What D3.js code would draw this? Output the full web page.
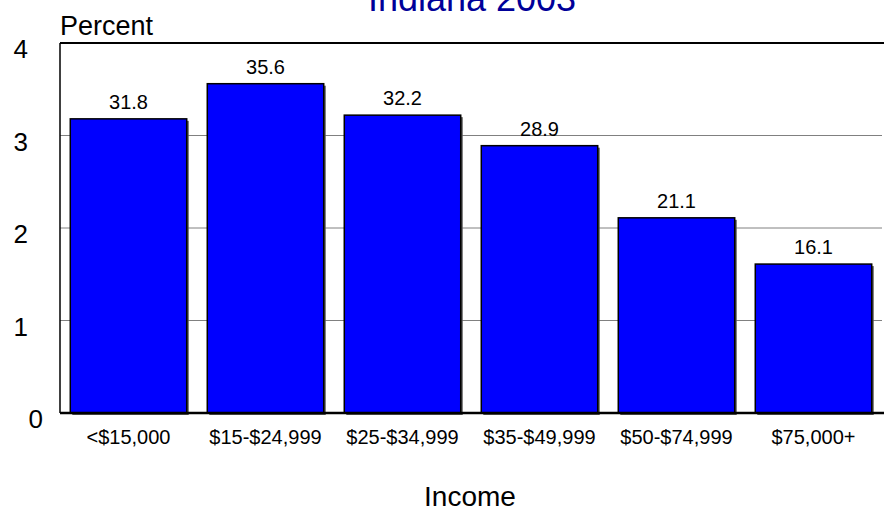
<!DOCTYPE html>
<html>
<head>
<meta charset="utf-8">
<script src="https://cdn.jsdelivr.net/npm/d3@7"></script>
<style>
  body { margin: 0; background: #fff; }
  svg { font-family: Arial, "Liberation Sans", sans-serif; display: block; }
</style>
</head>
<body>
<div id="chart"></div>
<script>
// chart data
var categories = ["<$15,000", "$15-$24,999", "$25-$34,999", "$35-$49,999", "$50-$74,999", "$75,000+"];
var values = [31.8, 35.6, 32.2, 28.9, 21.1, 16.1];
var yTicks = [0, 10, 20, 30, 40];
var yTickLabels = ["0", "1", "2", "3", "4"];

var W = 884, H = 512;
var margin = {top: 43, right: 2, bottom: 99, left: 60},
    width = W - margin.left - margin.right,
    height = H - margin.top - margin.bottom;

var svg = d3.select("#chart")
  .append("svg")
    .attr("width", W)
    .attr("height", H);

var g = svg.append("g")
    .attr("transform", "translate(" + margin.left + "," + margin.top + ")");

var x = d3.scaleBand()
    .domain(categories)
    .range([0, width])
    .paddingInner(0.15)
    .paddingOuter(0.075);

var y = d3.scaleLinear()
    .domain([0, 40])
    .range([height, 0]);

// title (cut off at top like the original)
svg.append("text")
    .attr("x", 472)
    .attr("y", 11)
    .attr("text-anchor", "middle")
    .style("font-size", "36px")
    .style("fill", "#000099")
    .text("Indiana 2003");

// gridlines
g.selectAll(".grid")
  .data(yTicks.filter(d => d > 0 && d < 40))
  .enter().append("line")
    .attr("x1", 0)
    .attr("x2", width)
    .attr("y1", d => y(d))
    .attr("y2", d => y(d))
    .style("stroke", "#808080")
    .style("stroke-width", 1);

// frame top and left
g.append("line")
    .attr("x1", 0).attr("x2", W - margin.left)
    .attr("y1", y(40)).attr("y2", y(40))
    .style("stroke", "#000").style("stroke-width", 2);
g.append("line")
    .attr("x1", 0).attr("x2", 0)
    .attr("y1", y(40)).attr("y2", y(0))
    .style("stroke", "#000").style("stroke-width", 1.5);

// bar shadows
g.selectAll(".shadow")
  .data(values)
  .enter().append("rect")
    .attr("x", (d, i) => x(categories[i]) + 2)
    .attr("y", d => y(d) + 2)
    .attr("width", x.bandwidth())
    .attr("height", d => y(0) - y(d))
    .style("fill", "#555");

// bars
g.selectAll(".bar")
  .data(values)
  .enter().append("rect")
    .attr("x", (d, i) => x(categories[i]))
    .attr("y", d => y(d))
    .attr("width", x.bandwidth())
    .attr("height", d => y(0) - y(d))
    .style("fill", "#0000ff")
    .style("stroke", "#000")
    .style("stroke-width", 1.5);

// value labels
g.selectAll(".val")
  .data(values)
  .enter().append("text")
    .attr("x", (d, i) => x(categories[i]) + x.bandwidth() / 2)
    .attr("y", d => y(d) - 10)
    .attr("text-anchor", "middle")
    .style("font-size", "20px")
    .style("fill", "#000")
    .text(d => d.toFixed(1));

// bottom axis line
g.append("line")
    .attr("x1", 0).attr("x2", W - margin.left)
    .attr("y1", y(0)).attr("y2", y(0))
    .style("stroke", "#000").style("stroke-width", 2.5);

// x tick labels
g.selectAll(".xl")
  .data(categories)
  .enter().append("text")
    .attr("x", d => x(d) + x.bandwidth() / 2)
    .attr("y", height + 31)
    .attr("text-anchor", "middle")
    .style("font-size", "20px")
    .text(d => d);

// y tick labels
svg.selectAll(".yl")
  .data(yTicks)
  .enter().append("text")
    .attr("x", (d, i) => i === 0 ? 43 : 28)
    .attr("y", d => margin.top + y(d) + 15)
    .attr("text-anchor", "end")
    .style("font-size", "26px")
    .text((d, i) => yTickLabels[i]);

// axis titles
svg.append("text")
    .attr("x", 60)
    .attr("y", 35)
    .style("font-size", "27px")
    .text("Percent");

svg.append("text")
    .attr("x", 470)
    .attr("y", 506)
    .attr("text-anchor", "middle")
    .style("font-size", "28px")
    .text("Income");
</script>
</body>
</html>
